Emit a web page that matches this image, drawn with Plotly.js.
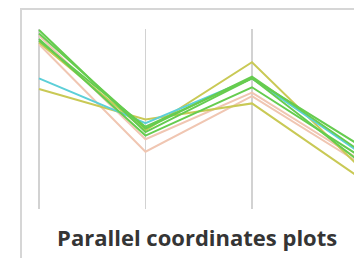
<!DOCTYPE html>
<html>
<head>
<meta charset="utf-8">
<script src="https://cdn.plot.ly/plotly-3.0.1.min.js"></script>
<style>html,body{margin:0;padding:0;background:#fff;}#chart{width:354px;height:258px;}</style>
</head>
<body>
<div id="chart"></div>
<script>
// Dimensions (axes) of the parallel-coordinates plot
const dimensions = [0, 1, 2, 3];
const dimensionLabels = ['A', 'B', 'C', 'D'];

// Series values (normalised 0-100 on each axis)
const seriesNames = ['s1', 's2', 's3', 's4', 's5', 's6', 's7', 's8', 's9'];
const s1 = [100, 43, 73, 36];
const s2 = [98, 45, 74, 33];
const s3 = [97, 39, 65, 28];
const s4 = [95, 41, 68, 30];
const s5 = [94, 46, 73, 27];
const s6 = [92, 32, 63, 26];
const s7 = [73, 48, 73, 32];
const s8 = [67, 50, 59, 18];
const s9 = [93, 44, 82, 24];
const seriesValues = [s1, s2, s3, s4, s5, s6, s7, s8, s9];
const seriesGroup = ['green', 'green', 'pink', 'green', 'green', 'pink', 'cyan', 'olive', 'olive'];

const groupColors = {green: '#66cc4f', pink: '#f0c6b2', cyan: '#5ccfd8', olive: '#c9c955'};
const drawOrder = [2, 5, 7, 8, 6, 0, 1, 3, 4];

const traces = drawOrder.map(i => ({
  type: 'scatter',
  mode: 'lines',
  name: seriesNames[i],
  x: dimensions,
  y: seriesValues[i],
  line: {color: groupColors[seriesGroup[i]], width: 2},
  hoverinfo: 'skip'
}));

const layout = {
  width: 354,
  height: 258,
  margin: {l: 34, r: 0, t: 29, b: 49},
  paper_bgcolor: '#ffffff',
  plot_bgcolor: '#ffffff',
  showlegend: false,
  title: {
    text: 'Parallel coordinates plots',
    font: {family: '"Open Sans", sans-serif', size: 22, color: '#353535', weight: 'bold'},
    xref: 'container', x: 0.557, xanchor: 'center',
    yref: 'container', y: 0.078, yanchor: 'middle'
  },
  xaxis: {
    range: [-0.047, 2.958],
    tickvals: dimensions,
    ticktext: dimensionLabels,
    showticklabels: false,
    ticks: '',
    showgrid: true,
    gridcolor: '#d2d2d2',
    gridwidth: 1.5,
    zeroline: false,
    showline: false,
    fixedrange: true
  },
  yaxis: {
    range: [0, 100.56],
    showticklabels: false,
    ticks: '',
    showgrid: false,
    zeroline: false,
    showline: false,
    fixedrange: true
  },
  shapes: [{
    type: 'rect', xref: 'paper', yref: 'paper',
    x0: -0.0406, x1: 1.3, y0: -0.6, y1: 1.111,
    line: {color: '#d6d6d6', width: 2},
    fillcolor: 'rgba(0,0,0,0)',
    layer: 'below'
  }]
};

Plotly.newPlot('chart', traces, layout, {displayModeBar: false, staticPlot: true});
</script>
</body>
</html>
